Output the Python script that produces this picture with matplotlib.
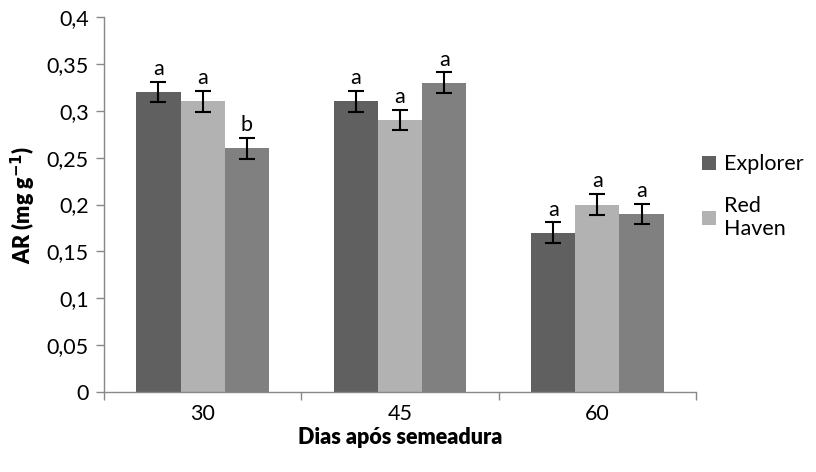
import numpy as np
import matplotlib.pyplot as plt

days = ['30', '45', '60']
explorer = [0.32, 0.31, 0.17]
red_haven = [0.31, 0.29, 0.20]
third = [0.26, 0.33, 0.19]
err = 0.011
letters_explorer = ['a', 'a', 'a']
letters_red = ['a', 'a', 'a']
letters_third = ['b', 'a', 'a']

plt.rcParams['font.family'] = ['Lato', 'DejaVu Sans']
fs = 15.5

fig = plt.figure(figsize=(8.16, 4.72), dpi=100)
ax = fig.add_axes([104 / 816, 80 / 472, 592 / 816, 375 / 472])

x = np.arange(len(days))
w = 0.224
series = [
    (explorer, '#606060', 'Explorer', letters_explorer),
    (red_haven, '#b2b2b2', 'Red\nHaven', letters_red),
    (third, '#808080', None, letters_third),
]
for i, (vals, col, lab, lets) in enumerate(series):
    pos = x + (i - 1) * w
    ax.bar(pos, vals, w, color=col, label=lab, zorder=2)
    ax.errorbar(pos, vals, yerr=err, fmt='none', ecolor='black',
                elinewidth=1.5, capsize=6, capthick=1.5, zorder=3)
    for p, v, t in zip(pos, vals, lets):
        ax.text(p, v + err + 0.003, t, ha='center', va='bottom', fontsize=fs)

ax.set_xlim(-0.5, 2.5)
ax.set_ylim(0, 0.4)
ax.set_yticks(np.arange(0, 0.41, 0.05))
ax.set_yticklabels(['0', '0,05', '0,1', '0,15', '0,2', '0,25', '0,3', '0,35', '0,4'])
ax.set_xticks(x)
ax.set_xticklabels(days)
ax.set_xticks([-0.5, 0.5, 1.5, 2.5], minor=True)
ax.tick_params(axis='x', which='major', length=0, pad=9, labelsize=fs)
ax.tick_params(axis='x', which='minor', length=6, color='#888888', width=1)
ax.tick_params(axis='y', length=6, color='#888888', width=1, labelsize=fs, pad=5)

for s in ['top', 'right']:
    ax.spines[s].set_visible(False)
for s in ['left', 'bottom']:
    ax.spines[s].set_color('#888888')
    ax.spines[s].set_linewidth(1)

ax.set_xlabel('Dias após semeadura', fontsize=fs, fontweight='heavy', labelpad=2)
ax.set_ylabel('AR (mg g$^{\\mathbf{-1}}$)', fontsize=fs, fontweight='heavy')
ax.yaxis.set_label_coords(-0.112, 0.5)

h, l = ax.get_legend_handles_labels()
fig.legend(h[:2], l[:2], loc='upper left', bbox_to_anchor=(683 / 816, 1 - 135 / 472),
           frameon=False, fontsize=fs, handlelength=0.65, handleheight=0.65,
           handletextpad=0.35, labelspacing=1.0)

fig.savefig('out.png', dpi=100)
